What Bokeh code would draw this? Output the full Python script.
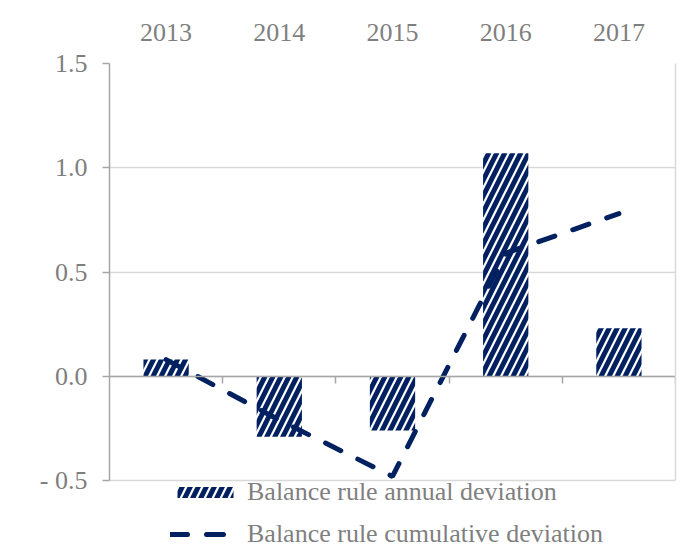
from bokeh.plotting import figure
from bokeh.models import FixedTicker, LinearAxis, Range1d, Legend, LegendItem
from bokeh.embed import file_html
from bokeh.resources import INLINE

years = ["2013", "2014", "2015", "2016", "2017"]
annual = [0.08, -0.29, -0.26, 1.07, 0.23]
cumulative = [0.08, -0.21, -0.48, 0.59, 0.78]
y_ticks = [-0.5, 0.0, 0.5, 1.0, 1.5]
y_tick_labels = ["- 0.5", "0.0", "0.5", "1.0", "1.5"]
labels = ["Balance rule annual deviation", "Balance rule cumulative deviation"]

NAVY = "#002060"
GRAY_TXT = "#7f7f7f"
AXIS_C = "#a6a6a6"
GRID_C = "#d9d9d9"
FONT = "Liberation Serif"

n = len(years)
xpos = [i + 0.5 for i in range(n)]          # category centres
bounds = [i + 1 for i in range(n)]          # category boundaries
y_lo, y_hi = y_ticks[0], y_ticks[-1]

# frame extends below the value axis to leave room for the legend
p = figure(x_range=Range1d(0, n), y_range=Range1d(-0.821, y_hi), width=681, height=557,
           output_backend="svg", toolbar_location=None, x_axis_location="above",
           min_border_left=109, min_border_right=4, min_border_top=63,
           min_border_bottom=10)
p.outline_line_color = None
p.background_fill_color = "white"
p.border_fill_color = "white"

bars = p.vbar(x=xpos, top=annual, bottom=0, width=0.4, fill_color="white",
              line_color=None, hatch_pattern="/", hatch_color=NAVY,
              hatch_scale=16, hatch_weight=5)
line = p.line(x=xpos, y=cumulative, line_color=NAVY, line_width=5,
              line_dash="17 19", line_cap="round")

# top category axis
xa = p.xaxis[0]
xa.ticker = FixedTicker(ticks=xpos)
xa.major_label_overrides = {x: y for x, y in zip(xpos, years)}
xa.axis_line_color = None
xa.major_tick_line_color = None
xa.minor_tick_line_color = None
xa.major_label_text_font = FONT
xa.major_label_text_font_size = "26px"
xa.major_label_text_color = GRAY_TXT
xa.major_label_standoff = 17

# zero axis with ticks at category boundaries
za = LinearAxis(fixed_location=0, ticker=FixedTicker(ticks=bounds),
                axis_line_color=AXIS_C, axis_line_width=1.5,
                major_tick_line_color=AXIS_C, major_tick_line_width=1.5,
                major_tick_in=0, major_tick_out=7, major_label_standoff=0,
                minor_tick_line_color=None, major_label_text_color=None,
                major_label_text_font_size="1px")
p.add_layout(za, "below")

ya = p.yaxis[0]
ya.bounds = (y_lo, y_hi)
ya.ticker = FixedTicker(ticks=y_ticks)
ya.major_label_overrides = {t: s for t, s in zip(y_ticks, y_tick_labels)}
ya.axis_line_color = AXIS_C
ya.axis_line_width = 1.5
ya.major_tick_line_color = AXIS_C
ya.major_tick_line_width = 1.5
ya.major_tick_in = 0
ya.major_tick_out = 7
ya.minor_tick_line_color = None
ya.major_label_text_font = FONT
ya.major_label_text_font_size = "26px"
ya.major_label_text_color = GRAY_TXT
ya.major_label_standoff = 15

# right border of the plot area
ra = LinearAxis(bounds=(y_lo, y_hi), ticker=FixedTicker(ticks=y_ticks),
                axis_line_color=GRID_C, axis_line_width=1.5,
                major_tick_line_color=None, minor_tick_line_color=None,
                major_label_text_color=None, major_label_text_font_size="1px",
                major_label_standoff=0)
p.add_layout(ra, "right")

p.xgrid.grid_line_color = None
p.ygrid.ticker = FixedTicker(ticks=y_ticks)
p.ygrid.grid_line_color = GRID_C
p.ygrid.grid_line_width = 1.5

legend = Legend(items=[LegendItem(label=labels[0], renderers=[bars]),
                       LegendItem(label=labels[1], renderers=[line])],
                location=(61, -2), orientation="vertical",
                border_line_color=None, background_fill_alpha=0,
                label_text_font=FONT, label_text_font_size="26px",
                label_text_color=GRAY_TXT, glyph_width=70, glyph_height=14,
                label_height=26, spacing=12, padding=0, margin=0,
                label_standoff=7)
p.add_layout(legend, "center")

open("out.html", "w").write(file_html(p, INLINE))
